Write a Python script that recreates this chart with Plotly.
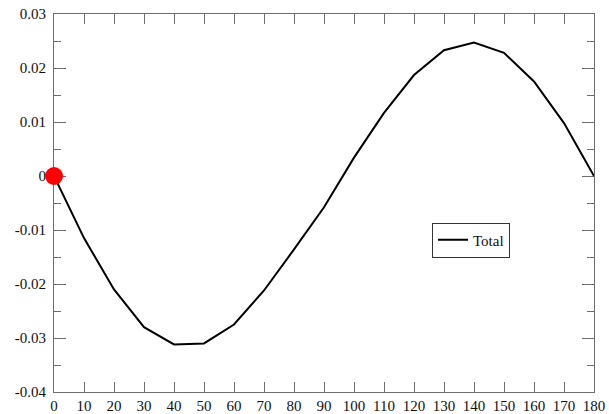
import plotly.graph_objects as go

angles = [0, 10, 20, 30, 40, 50, 60, 70, 80, 90, 100, 110, 120, 130, 140, 150, 160, 170, 180]
total = [0.0, -0.0115, -0.0210, -0.0280, -0.0312, -0.0310, -0.0275, -0.0212, -0.0136, -0.0058,
         0.0034, 0.0117, 0.0187, 0.0233, 0.0247, 0.0228, 0.0175, 0.0098, 0.0]
marker_x = [0]
marker_y = [0]

x_ticks = list(range(0, 181, 10))
y_ticks = [-0.04, -0.03, -0.02, -0.01, 0, 0.01, 0.02, 0.03]
y_labels = ["-0.04", "-0.03", "-0.02", "-0.01", "0", "0.01", "0.02", "0.03"]

font = "Liberation Serif, Times New Roman, serif"
axis_col = "#6e6e6e"
text_col = "#111"

fig = go.Figure()
fig.add_trace(go.Scatter(x=angles, y=total, mode="lines", name="Total",
                         line=dict(color="black", width=2), cliponaxis=False))
fig.add_trace(go.Scatter(x=marker_x, y=marker_y, mode="markers", showlegend=False,
                         marker=dict(color="#ff0000", size=18, line=dict(width=0)),
                         cliponaxis=False))

fig.update_layout(
    width=609, height=414,
    margin=dict(l=54, r=15, t=14, b=22, autoexpand=False),
    paper_bgcolor="white", plot_bgcolor="white",
    font=dict(family=font, size=15, color=text_col),
    legend=dict(x=0.70, y=0.402, xanchor="left", yanchor="middle",
                bordercolor="#333", borderwidth=1, bgcolor="white",
                font=dict(family=font, size=15, color=text_col),
                itemwidth=30, tracegroupgap=0),
    showlegend=True,
)
fig.update_xaxes(range=[0, 180], tickvals=x_ticks, ticktext=[str(v) for v in x_ticks],
                 ticks="inside", ticklen=10, tickcolor=axis_col, tickwidth=1,
                 showline=True, linecolor=axis_col, linewidth=1, mirror="ticks",
                 showgrid=False, zeroline=False, automargin=False,
                 ticklabeloverflow="allow", layer="below traces",
                 tickfont=dict(family=font, size=15, color=text_col))
fig.update_yaxes(range=[-0.04, 0.03], tickvals=y_ticks, ticktext=y_labels,
                 ticks="inside", ticklen=12, tickcolor=axis_col, tickwidth=1,
                 showline=True, linecolor=axis_col, linewidth=1, mirror="ticks",
                 showgrid=False, zeroline=False, automargin=False,
                 ticklabeloverflow="allow", layer="below traces",
                 ticklabelstandoff=4,
                 minor=dict(dtick=0.005, tick0=0, ticks="inside", ticklen=7,
                            tickcolor=axis_col, showgrid=False),
                 tickfont=dict(family=font, size=15, color=text_col))

fig.write_html(
    "out.html",
    config={"displayModeBar": False},
    post_script="document.body.style.margin='0';document.body.style.overflow='hidden';",
)
